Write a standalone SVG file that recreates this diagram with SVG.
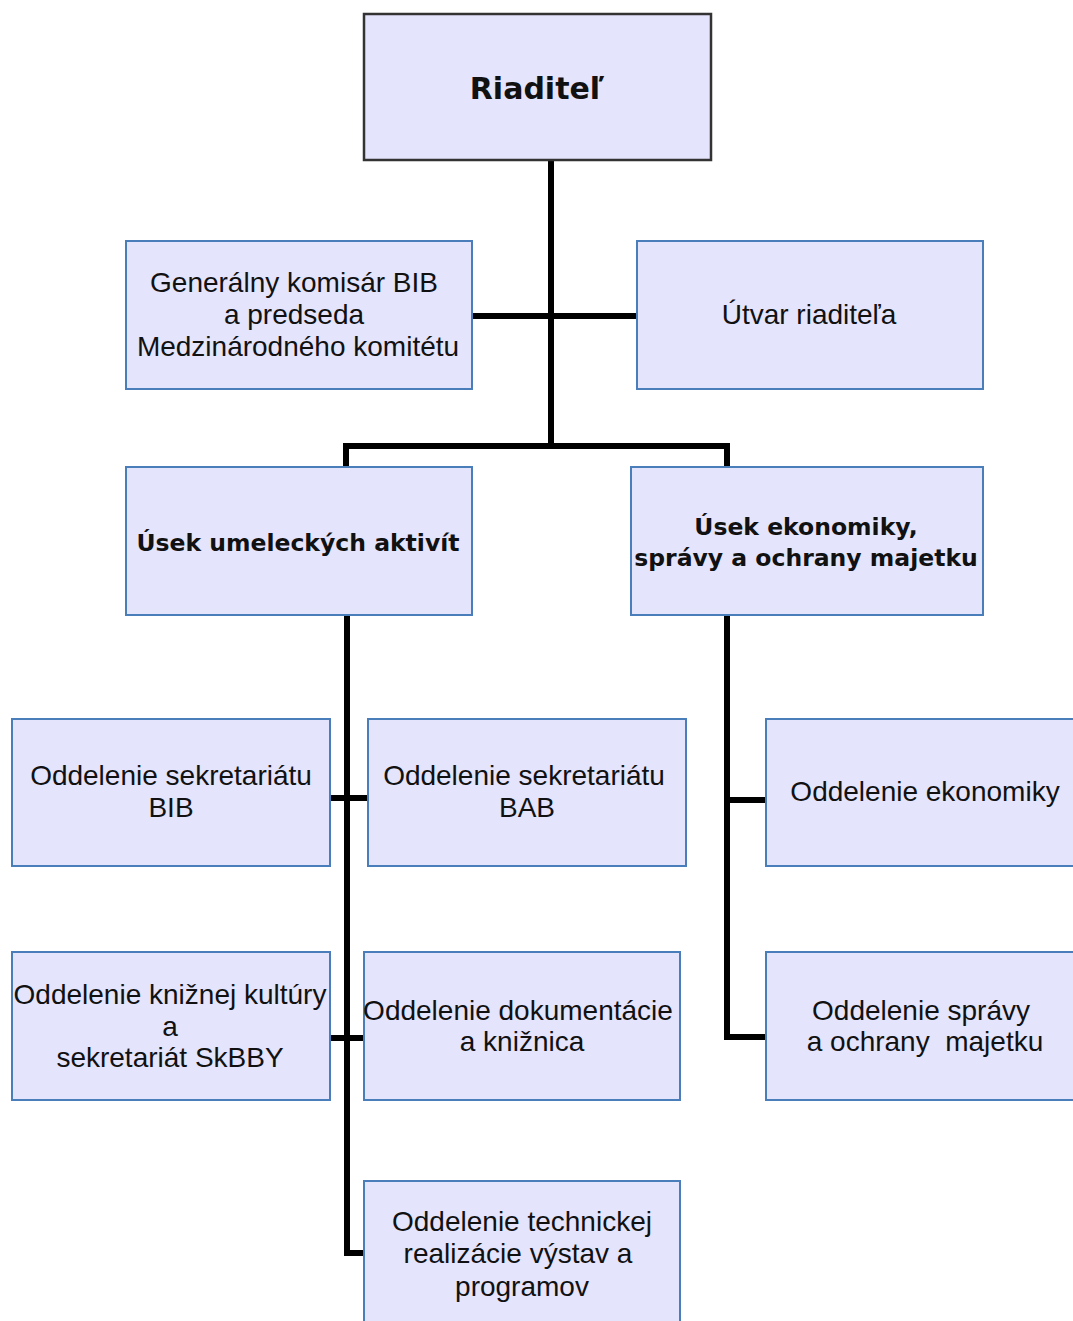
<svg xmlns="http://www.w3.org/2000/svg" width="1073" height="1321" viewBox="0 0 1073 1321">
<style>
.box{fill:#e4e4fc;stroke:#4a7ebb;stroke-width:2}
.top{fill:#e4e4fc;stroke:#333;stroke-width:2.5}
.t{font-family:"Liberation Sans",Arial,sans-serif;font-size:28px;fill:#111;text-anchor:middle}
.b{font-family:"DejaVu Sans",sans-serif;font-weight:bold;font-size:23.5px;fill:#111;text-anchor:middle}
.c{fill:none;stroke:#000;stroke-width:6;stroke-linejoin:miter}
</style>
<rect width="1073" height="1321" fill="#fff"/>
<g id="connectors">
<path class="c" d="M551 160V446M472 316H637M346 467V446H727V467"/>
<path class="c" d="M347 615V1253H364M330 798H368M330 1038H364"/>
<path class="c" d="M727 615V1037H766M727 800H766"/>
</g>
<g id="riaditel"><rect class="top" x="364" y="14" width="347" height="146"/><text class="b" style="font-size:30px" x="537" y="99">Riaditeľ</text></g>
<g id="generalny"><rect class="box" x="126" y="241" width="346" height="148"/><text class="t" x="294" y="292">Generálny komisár BIB</text><text class="t" x="294" y="324">a predseda</text><text class="t" x="298" y="356">Medzinárodného komitétu</text></g>
<g id="utvar"><rect class="box" x="637" y="241" width="346" height="148"/><text class="t" x="809" y="324">Útvar riaditeľa</text></g>
<g id="usek-umel"><rect class="box" x="126" y="467" width="346" height="148"/><text class="b" x="298" y="551">Úsek umeleckých aktivít</text></g>
<g id="usek-ekon"><rect class="box" x="631" y="467" width="352" height="148"/><text class="b" x="806" y="535">Úsek ekonomiky,</text><text class="b" x="806" y="566">správy a ochrany majetku</text></g>
<g id="sekr-bib"><rect class="box" x="12" y="719" width="318" height="147"/><text class="t" x="171" y="785">Oddelenie sekretariátu</text><text class="t" x="171" y="817">BIB</text></g>
<g id="sekr-bab"><rect class="box" x="368" y="719" width="318" height="147"/><text class="t" x="524" y="785">Oddelenie sekretariátu</text><text class="t" x="527" y="817">BAB</text></g>
<g id="ekonomiky"><rect class="box" x="766" y="719" width="320" height="147"/><text class="t" x="925" y="801">Oddelenie ekonomiky</text></g>
<g id="kniznej"><rect class="box" x="12" y="952" width="318" height="148"/><text class="t" x="170" y="1004">Oddelenie knižnej kultúry</text><text class="t" x="170" y="1036">a</text><text class="t" x="170" y="1067">sekretariát SkBBY</text></g>
<g id="dokument"><rect class="box" x="364" y="952" width="316" height="148"/><text class="t" x="518" y="1020">Oddelenie dokumentácie</text><text class="t" x="522" y="1051">a knižnica</text></g>
<g id="spravy"><rect class="box" x="766" y="952" width="320" height="148"/><text class="t" x="921" y="1020">Oddelenie správy</text><text class="t" x="925" y="1051" style="white-space:pre">a ochrany  majetku</text></g>
<g id="technickej"><rect class="box" x="364" y="1181" width="316" height="150"/><text class="t" x="522" y="1231">Oddelenie technickej</text><text class="t" x="518" y="1263">realizácie výstav a</text><text class="t" x="522" y="1296">programov</text></g>
</svg>
